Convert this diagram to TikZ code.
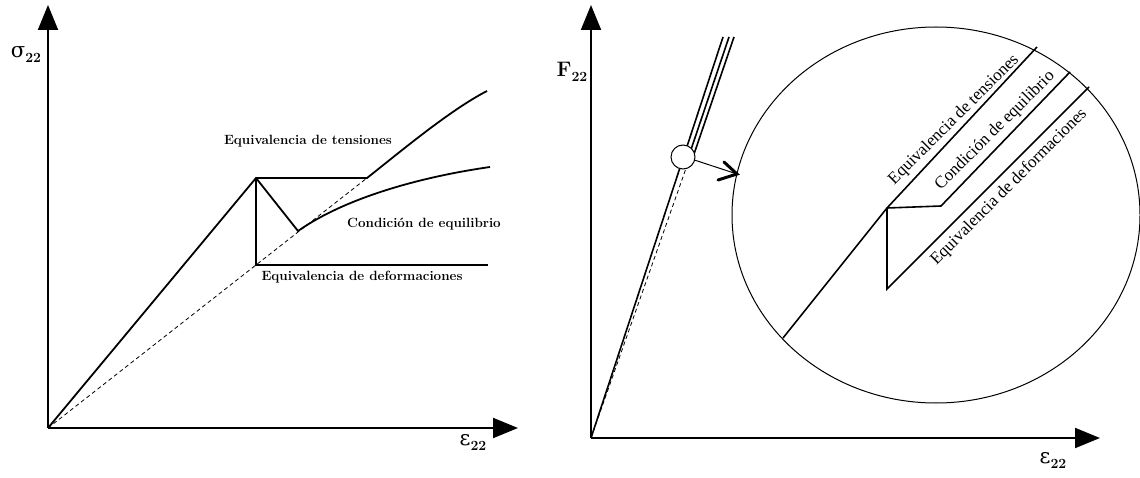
\documentclass[tikz,border=0pt]{standalone}
\usepackage{fontspec}
\newfontfamily\timesf{Liberation Serif}
\newfontfamily\dvs{DejaVu Serif}
\usetikzlibrary{arrows.meta}
\newcommand{\subtw}{\raisebox{-5pt}{\fontsize{14}{14}\selectfont\bfseries 22}}
\tikzset{
  axis/.style={line width=2pt,-{Triangle[length=25pt,width=20pt]}},
  curve/.style={line width=1.8pt},
  thinline/.style={line width=1.6pt},
  guide/.style={line width=0.8pt,dash pattern=on 4pt off 3pt},
  lbl/.style={font=\fontsize{13.4}{16}\selectfont\bfseries,inner sep=0pt},
  rlbl/.style={font=\timesf\fontsize{17}{20}\selectfont,inner sep=0pt,rotate=45},
  axlbl/.style={font=\fontsize{21}{24}\selectfont,inner sep=0pt},
}
\begin{document}
\begin{tikzpicture}[x=1pt,y=-1pt]
\useasboundingbox (0,0) rectangle (1140,478);
% ---------- left diagram ----------
\coordinate (O1) at (48,428);
\coordinate (P) at (256,178);
\coordinate (Q) at (367,178);
\coordinate (B) at (256,265);
\coordinate (M) at (298,231);
\draw[axis] (O1) -- (48,5);
\draw[axis] (O1) -- (518,428);
\node[axlbl] (s22) at (26,55) {{\dvs σ}\subtw};
\node[axlbl] (e22a) at (473,442) {{\dvs ε}\subtw};
\draw[guide] (O1) -- (Q);
\draw[curve] (O1) -- (P) -- (Q) .. controls (400,152) and (450,110) .. (487,91);
\draw[curve] (P) -- (B) -- (488,265);
\draw[curve] (P) -- (M) .. controls (345,198) and (420,177) .. (490,167);
\node[lbl] (t1) at (308,141) {Equivalencia de tensiones};
\node[lbl] (c1) at (424,224) {Condición de equilibrio};
\node[lbl] (d1) at (362,277) {Equivalencia de deformaciones};
% ---------- right diagram ----------
\coordinate (O2) at (591,438);
\draw[axis] (O2) -- (591,5);
\draw[axis] (O2) -- (1100,438);
\node[axlbl] (f22) at (572,72) {\bfseries F\subtw};
\node[axlbl] (e22b) at (1053,460) {{\dvs ε}\subtw};
\draw[guide] (O2) -- (690,157);
\draw[thinline] (O2) -- (723,37);
\draw[thinline] (688.5,157) -- (729,37);
\draw[thinline] (693,157) -- (734,37);
\node[circle,draw,fill=white,line width=1pt,minimum size=24pt,inner sep=0pt] (sc) at (683,157) {};
\coordinate (tip) at (737,174);
\draw[line width=1pt] (sc.-15) -- (tip);
\draw[line width=3pt,line cap=round] (718,180) -- (tip) -- (724,162);
% zoom ellipse
\draw[line width=1pt] (936,215) ellipse [x radius=204, y radius=188];
\coordinate (K) at (887,208);
\coordinate (L) at (941,206);
\coordinate (D) at (887,289);
\draw[thinline] (783,338) -- (K) -- (1037,47);
\draw[thinline] (K) -- (L) -- (1070,72);
\draw[thinline] (K) -- (D) -- (1089,87);
\node[rlbl] (t2) at (954,120) {Equivalencia de tensiones};
\node[rlbl] (c2) at (995,131) {Condición de equilibrio};
\node[rlbl] (d2) at (1009,187) {Equivalencia de deformaciones};
\end{tikzpicture}
\end{document}
